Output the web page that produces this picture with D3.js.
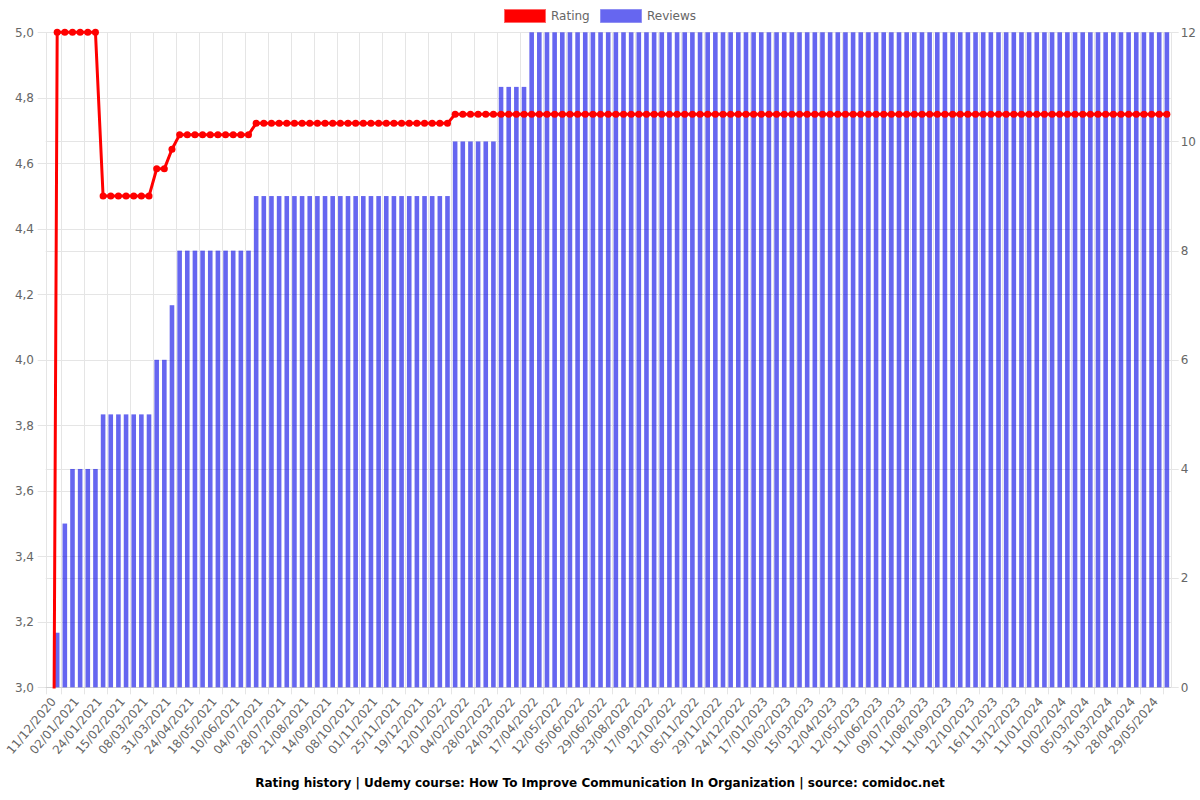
<!DOCTYPE html>
<html>
<head>
<meta charset="utf-8">
<script src="https://cdn.jsdelivr.net/npm/d3@7"></script>
<style>
  html, body { margin: 0; padding: 0; background: #fff; }
  svg { display: block; font-family: "DejaVu Sans", sans-serif; }
</style>
</head>
<body>
<svg id="chart" width="1200" height="800"></svg>
<script>
const categories = [
  "11/12/2020","18/12/2020","25/12/2020",
  "02/01/2021","09/01/2021","17/01/2021",
  "24/01/2021","31/01/2021","08/02/2021",
  "15/02/2021","22/02/2021","01/03/2021",
  "08/03/2021","16/03/2021","23/03/2021",
  "31/03/2021","08/04/2021","16/04/2021",
  "24/04/2021","02/05/2021","10/05/2021",
  "18/05/2021","26/05/2021","02/06/2021",
  "10/06/2021","18/06/2021","26/06/2021",
  "04/07/2021","12/07/2021","20/07/2021",
  "28/07/2021","05/08/2021","13/08/2021",
  "21/08/2021","29/08/2021","06/09/2021",
  "14/09/2021","22/09/2021","30/09/2021",
  "08/10/2021","16/10/2021","24/10/2021",
  "01/11/2021","09/11/2021","17/11/2021",
  "25/11/2021","03/12/2021","11/12/2021",
  "19/12/2021","27/12/2021","04/01/2022",
  "12/01/2022","20/01/2022","27/01/2022",
  "04/02/2022","12/02/2022","20/02/2022",
  "28/02/2022","08/03/2022","16/03/2022",
  "24/03/2022","01/04/2022","09/04/2022",
  "17/04/2022","25/04/2022","04/05/2022",
  "12/05/2022","20/05/2022","28/05/2022",
  "05/06/2022","13/06/2022","21/06/2022",
  "29/06/2022","18/07/2022","05/08/2022",
  "23/08/2022","31/08/2022","09/09/2022",
  "17/09/2022","25/09/2022","04/10/2022",
  "12/10/2022","20/10/2022","28/10/2022",
  "05/11/2022","13/11/2022","21/11/2022",
  "29/11/2022","07/12/2022","16/12/2022",
  "24/12/2022","01/01/2023","09/01/2023",
  "17/01/2023","25/01/2023","02/02/2023",
  "10/02/2023","21/02/2023","04/03/2023",
  "15/03/2023","24/03/2023","03/04/2023",
  "12/04/2023","22/04/2023","02/05/2023",
  "12/05/2023","22/05/2023","01/06/2023",
  "11/06/2023","20/06/2023","30/06/2023",
  "09/07/2023","20/07/2023","31/07/2023",
  "11/08/2023","21/08/2023","01/09/2023",
  "11/09/2023","21/09/2023","01/10/2023",
  "12/10/2023","24/10/2023","04/11/2023",
  "16/11/2023","25/11/2023","04/12/2023",
  "13/12/2023","23/12/2023","02/01/2024",
  "11/01/2024","21/01/2024","31/01/2024",
  "10/02/2024","18/02/2024","26/02/2024",
  "05/03/2024","14/03/2024","22/03/2024",
  "31/03/2024","09/04/2024","19/04/2024",
  "28/04/2024","08/05/2024","18/05/2024",
  "29/05/2024","08/06/2024","18/06/2024"
];

const reviews = [
  0,1,3,4,4,4,4,5,5,5,5,5,5,5,6,6,7,8,8,8,8,8,8,8,8,8,8,
  9,9,9,9,9,9,9,9,9,9,9,9,9,9,9,9,9,9,9,9,9,9,9,9,9,9,
  10,10,10,10,10,10,
  11,11,11,11,
  12,12,12,12,12,12,12,12,12,12,12,12,12,12,12,12,12,12,12,12,12,
  12,12,12,12,12,12,12,12,12,12,12,12,12,12,12,12,12,12,12,12,12,
  12,12,12,12,12,12,12,12,12,12,12,12,12,12,12,12,12,12,12,12,12,
  12,12,12,12,12,12,12,12,12,12,12,12,12,12,12,12,12,12,12,12,12
];

const rating = [
  0,
  5.0,5.0,5.0,5.0,5.0,5.0,
  4.5,4.5,4.5,4.5,4.5,4.5,4.5,
  4.583,4.583,
  4.643,
  4.6875,4.6875,4.6875,4.6875,4.6875,4.6875,4.6875,4.6875,4.6875,4.6875,
  4.722,4.722,4.722,4.722,4.722,4.722,4.722,4.722,4.722,4.722,4.722,4.722,4.722,
  4.722,4.722,4.722,4.722,4.722,4.722,4.722,4.722,4.722,4.722,4.722,4.722,4.722,
  4.75,4.75,4.75,4.75,4.75,4.75,4.75,4.75,4.75,4.75,4.75,4.75,4.75,4.75,4.75,4.75,
  4.75,4.75,4.75,4.75,4.75,4.75,4.75,4.75,4.75,4.75,4.75,4.75,4.75,4.75,4.75,4.75,
  4.75,4.75,4.75,4.75,4.75,4.75,4.75,4.75,4.75,4.75,4.75,4.75,4.75,4.75,4.75,4.75,
  4.75,4.75,4.75,4.75,4.75,4.75,4.75,4.75,4.75,4.75,4.75,4.75,4.75,4.75,4.75,4.75,
  4.75,4.75,4.75,4.75,4.75,4.75,4.75,4.75,4.75,4.75,4.75,4.75,4.75,4.75,4.75,4.75,
  4.75,4.75,4.75,4.75,4.75,4.75,4.75,4.75,4.75,4.75,4.75,4.75,4.75,4.75
];

const ratingTicks = [3.0,3.2,3.4,3.6,3.8,4.0,4.2,4.4,4.6,4.8,5.0];
const reviewTicks = [0,2,4,6,8,10,12];
const labelEvery = 3;
const titleText = "Rating history | Udemy course: How To Improve Communication In Organization | source: comidoc.net";
const seriesNames = ["Rating", "Reviews"];

(function () {
const W = 1200, H = 800;
const pL = 45.7, pR = 1170.7, pT = 32.3, pB = 687.3;
const gridColor = "#e5e5e5";
const tickColor = "#666";
const barColor = "rgba(0,0,230,0.6)";
const lineColor = "#ff0000";

const svg = d3.select("#chart");

const x = d3.scaleBand().domain(d3.range(categories.length)).range([pL, pR]).padding(0);
const yL = d3.scaleLinear().domain([3, 5]).range([pB, pT]);
const yR = d3.scaleLinear().domain([0, 12]).range([pB, pT]);
const step = x.bandwidth();
const cx = i => x(i) + step / 2;

svg.append("defs").append("clipPath").attr("id", "plotclip")
  .append("rect").attr("x", pL - 6).attr("y", pT - 6)
  .attr("width", pR - pL + 12).attr("height", pB - pT + 7.2);

const grid = svg.append("g");
grid.selectAll(".gl").data(ratingTicks).enter().append("line")
  .attr("x1", pL - 8).attr("x2", pR)
  .attr("y1", d => Math.round(yL(d)) + 0.5).attr("y2", d => Math.round(yL(d)) + 0.5)
  .attr("stroke", gridColor).attr("stroke-width", 1);
grid.selectAll(".gr").data(reviewTicks).enter().append("line")
  .attr("x1", pL).attr("x2", pR + 8)
  .attr("y1", d => Math.round(yR(d)) + 0.5).attr("y2", d => Math.round(yR(d)) + 0.5)
  .attr("stroke", gridColor).attr("stroke-width", 1);
const labelIdx = d3.range(0, categories.length, labelEvery);
grid.selectAll(".gx").data(labelIdx).enter().append("line")
  .attr("x1", d => Math.round(cx(d) + step * labelEvery / 2) + 0.5)
  .attr("x2", d => Math.round(cx(d) + step * labelEvery / 2) + 0.5)
  .attr("y1", pT).attr("y2", pB + 7)
  .attr("stroke", gridColor).attr("stroke-width", 1);
grid.append("line").attr("x1", Math.round(pL) + 0.5).attr("x2", Math.round(pL) + 0.5)
  .attr("y1", pT).attr("y2", pB + 7).attr("stroke", gridColor);
grid.append("line").attr("x1", Math.round(pR) + 0.5).attr("x2", Math.round(pR) + 0.5)
  .attr("y1", pT).attr("y2", pB).attr("stroke", gridColor);
grid.append("line").attr("x1", pL).attr("x2", pR)
  .attr("y1", Math.round(pB) + 0.5).attr("y2", Math.round(pB) + 0.5)
  .attr("stroke", "#d0d0d0");

const barW = 4.6;
svg.append("g").selectAll("rect").data(reviews).enter().append("rect")
  .attr("x", (d, i) => cx(i) - barW / 2)
  .attr("y", d => yR(d))
  .attr("width", barW)
  .attr("height", d => yR(0) - yR(d))
  .attr("fill", barColor);

const lineG = svg.append("g").attr("clip-path", "url(#plotclip)");
const line = d3.line().x((d, i) => cx(i)).y(d => yL(d));
lineG.append("path").datum(rating).attr("d", line)
  .attr("fill", "none").attr("stroke", lineColor).attr("stroke-width", 3)
  .attr("stroke-linejoin", "round");
lineG.selectAll("circle").data(rating).enter().append("circle")
  .attr("cx", (d, i) => cx(i)).attr("cy", d => yL(d)).attr("r", 3.5)
  .attr("fill", lineColor);

svg.append("g").selectAll("text").data(ratingTicks).enter().append("text")
  .attr("x", 34).attr("y", d => yL(d)).attr("dy", "0.35em")
  .attr("text-anchor", "end").attr("font-size", 12).attr("fill", tickColor)
  .text(d => d3.format(".1f")(d).replace(".", ","));
svg.append("g").selectAll("text").data(reviewTicks).enter().append("text")
  .attr("x", pR + 10).attr("y", d => yR(d)).attr("dy", "0.35em")
  .attr("text-anchor", "start").attr("font-size", 12).attr("fill", tickColor)
  .text(d => d);
svg.append("g").selectAll("text").data(labelIdx).enter().append("text")
  .attr("transform", d => `translate(${cx(d) + 4},${pB + 12}) rotate(-50)`)
  .attr("text-anchor", "end").attr("dy", "0.35em")
  .attr("font-size", 12).attr("fill", tickColor)
  .text(d => categories[d]);

const leg = svg.append("g");
leg.append("rect").attr("x", 504.5).attr("y", 9.5).attr("width", 41).attr("height", 13)
  .attr("fill", lineColor).attr("stroke", "#ff6666").attr("stroke-width", 1);
leg.append("text").attr("x", 551).attr("y", 16).attr("dy", "0.35em")
  .attr("font-size", 12).attr("fill", tickColor).text(seriesNames[0]);
leg.append("rect").attr("x", 600.5).attr("y", 9.5).attr("width", 41).attr("height", 13)
  .attr("fill", barColor).attr("stroke", "rgba(120,120,240,0.6)").attr("stroke-width", 1);
leg.append("text").attr("x", 647).attr("y", 16).attr("dy", "0.35em")
  .attr("font-size", 12).attr("fill", tickColor).text(seriesNames[1]);

svg.append("text").attr("x", W / 2).attr("y", 783).attr("dy", "0.35em")
  .attr("text-anchor", "middle").attr("font-size", 12).attr("font-weight", "bold")
  .attr("fill", "#000").text(titleText);
})();
</script>
</body>
</html>
